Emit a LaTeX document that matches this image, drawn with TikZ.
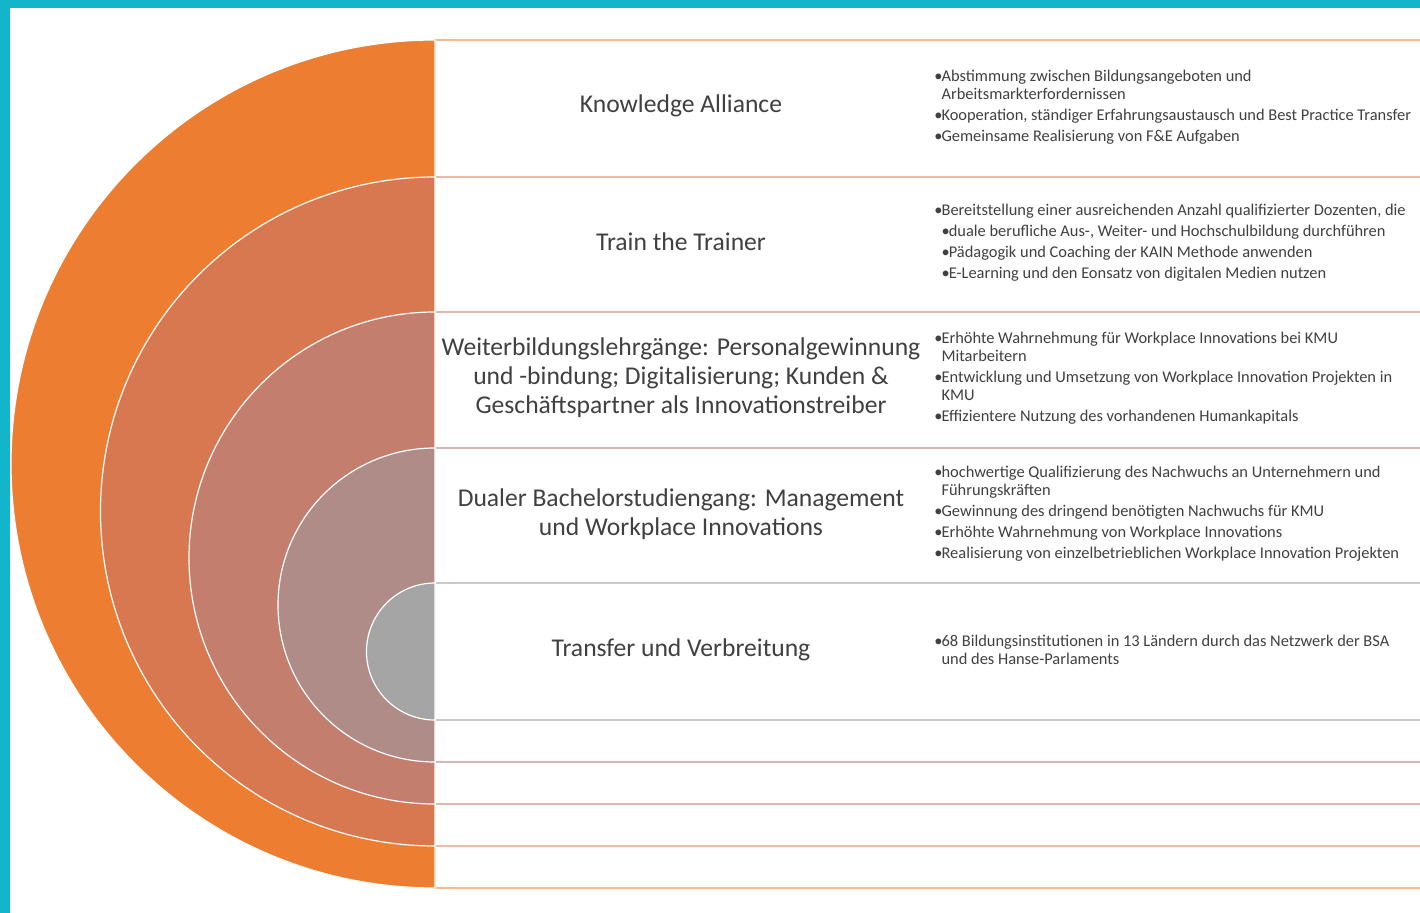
\documentclass[tikz,border=0pt]{standalone}
\usepackage{fontspec}
\setmainfont{Carlito}
\newfontfamily\listfont{Carlito}
\definecolor{frameC}{HTML}{12B5C9}
\definecolor{ringA}{HTML}{ED7D31}
\definecolor{ringB}{HTML}{D87850}
\definecolor{ringC}{HTML}{C47E6E}
\definecolor{ringD}{HTML}{B08C88}
\definecolor{ringE}{HTML}{A5A5A5}
\definecolor{textC}{HTML}{404040}
\newcommand{\bt}{\makebox[3.6pt][l]{\textbullet}}
\newcommand{\bi}{\hspace*{3.6pt}}

\begin{document}
\begin{tikzpicture}[x=0.5pt, y=-0.5pt,
    ringtitle/.style={text=textC, font=\fontsize{12.8}{14.5}\selectfont, align=center},
    bulletlist/.style={text=textC, font=\listfont\fontsize{8.2}{9}\selectfont, align=left, anchor=west, inner sep=0pt}]
    \useasboundingbox (0,0) rectangle (1420,913);
    % Rahmen
    \fill[frameC] (0,0) rectangle (1420,8);
    \fill[frameC] (0,0) rectangle (10,913);

    % Rechtecke (aussen nach innen)
    \draw[ringA!55!white, fill=white, line width=0.8pt] (435,40) rectangle (1440,888);
    \draw[ringB!50!white, fill=white, line width=0.8pt] (435,177) rectangle (1440,846);
    \draw[ringC!55!white, fill=white, line width=0.8pt] (435,312) rectangle (1440,804);
    \draw[ringD!60!white, fill=white, line width=0.8pt] (435,448) rectangle (1440,762);
    \draw[ringE!60!white, fill=white, line width=0.8pt] (435,583) rectangle (1440,720);

    % Halbkreise
    \filldraw[fill=ringA, draw=white, line width=0.6pt] (435,40) arc[start angle=-90, end angle=-270, radius=424] -- cycle;
    \filldraw[fill=ringB, draw=white, line width=0.6pt] (435,177) arc[start angle=-90, end angle=-270, radius=334.5] -- cycle;
    \filldraw[fill=ringC, draw=white, line width=0.6pt] (435,312) arc[start angle=-90, end angle=-270, radius=246] -- cycle;
    \filldraw[fill=ringD, draw=white, line width=0.6pt] (435,448) arc[start angle=-90, end angle=-270, radius=157] -- cycle;
    \filldraw[fill=ringE, draw=white, line width=0.6pt] (435,583) arc[start angle=-90, end angle=-270, radius=68.5] -- cycle;

    % Titel
    \node[ringtitle] (ka) at (681,106) {Knowledge Alliance};
    \node[ringtitle] (ttt) at (681,242) {Train the Trainer};
    \node[ringtitle] (wbl) at (681,378) {Weiterbildungslehrgänge: Personalgewinnung\\und -bindung; Digitalisierung; Kunden \&\\Geschäftspartner als Innovationstreiber};
    \node[ringtitle] (dbs) at (681,514) {Dualer Bachelorstudiengang: Management\\und Workplace Innovations};
    \node[ringtitle] (tuv) at (681,650) {Transfer und Verbreitung};

    % Stichpunkte
    \node[bulletlist] (kaList) at (934,107) {\bt Abstimmung zwischen Bildungsangeboten und\\
        \bi Arbeitsmarkterfordernissen\\[1.5pt]
        \bt Kooperation, ständiger Erfahrungsaustausch und Best Practice Transfer\\[1.5pt]
        \bt Gemeinsame Realisierung von F\&E Aufgaben};
    \node[bulletlist] (tttList) at (934,243) {\bt Bereitstellung einer ausreichenden Anzahl qualifizierter Dozenten, die\\[1.5pt]
        \bi\bt duale berufliche Aus-, Weiter- und Hochschulbildung durchführen\\[1.5pt]
        \bi\bt Pädagogik und Coaching der KAIN Methode anwenden\\[1.5pt]
        \bi\bt E-Learning und den Eonsatz von digitalen Medien nutzen};
    \node[bulletlist] (wblList) at (934,378) {\bt Erhöhte Wahrnehmung für Workplace Innovations bei KMU\\
        \bi Mitarbeitern\\[1.5pt]
        \bt Entwicklung und Umsetzung von Workplace Innovation Projekten in\\
        \bi KMU\\[1.5pt]
        \bt Effizientere Nutzung des vorhandenen Humankapitals};
    \node[bulletlist] (dbsList) at (934,514) {\bt hochwertige Qualifizierung des Nachwuchs an Unternehmern und\\
        \bi Führungskräften\\[1.5pt]
        \bt Gewinnung des dringend benötigten Nachwuchs für KMU\\[1.5pt]
        \bt Erhöhte Wahrnehmung von Workplace Innovations\\[1.5pt]
        \bt Realisierung von einzelbetrieblichen Workplace Innovation Projekten};
    \node[bulletlist] (tuvList) at (934,650) {\bt 68 Bildungsinstitutionen in 13 Ländern durch das Netzwerk der BSA\\
        \bi und des Hanse-Parlaments};
\end{tikzpicture}
\end{document}
